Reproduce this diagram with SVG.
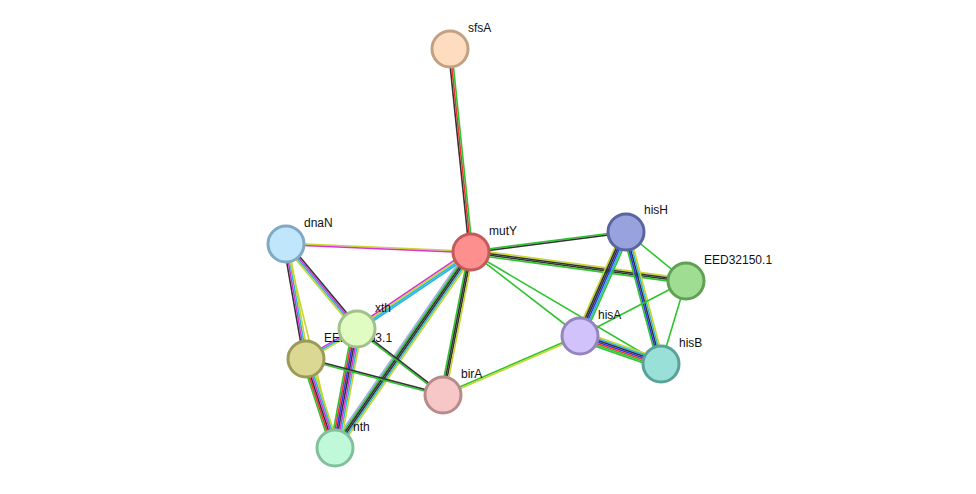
<svg xmlns="http://www.w3.org/2000/svg" width="976" height="494" viewBox="0 0 976 494">
<style>
line{stroke-width:1.6;fill:none}
.k{stroke:#333}.g{stroke:#2ec52e}.y{stroke:#c6d62e}.m{stroke:#d633d6}.c{stroke:#2bb6dd}.b{stroke:#3333ee}.r{stroke:#f03333}.l{stroke:#a9a9f6}
circle{stroke-width:3}
text{font-family:"Liberation Sans",Arial,sans-serif;font-size:12px;fill:#111}
</style>
<rect width="976" height="494" fill="#fff"/>
<g id="edges">
<line class="k" x1="450" y1="49" x2="471" y2="252" transform="translate(-1.6,0.16)"/>
<line class="r" x1="450" y1="49" x2="471" y2="252"/>
<line class="g" x1="450" y1="49" x2="471" y2="252" transform="translate(1.6,-0.16)"/>
<line class="y" x1="286" y1="244" x2="471" y2="252" transform="translate(0,-0.8)"/>
<line class="m" x1="286" y1="244" x2="471" y2="252" transform="translate(0,0.8)"/>
<line class="k" x1="286" y1="244" x2="357" y2="329" transform="translate(1.84,-1.54)"/>
<line class="m" x1="286" y1="244" x2="357" y2="329" transform="translate(0.61,-0.51)"/>
<line class="c" x1="286" y1="244" x2="357" y2="329" transform="translate(-0.61,0.51)"/>
<line class="y" x1="286" y1="244" x2="357" y2="329" transform="translate(-1.84,1.54)"/>
<line class="k" x1="286" y1="244" x2="306" y2="359" transform="translate(-2.36,0.41)"/>
<line class="m" x1="286" y1="244" x2="306" y2="359" transform="translate(-0.79,0.14)"/>
<line class="c" x1="286" y1="244" x2="306" y2="359" transform="translate(0.79,-0.14)"/>
<line class="y" x1="286" y1="244" x2="306" y2="359" transform="translate(2.36,-0.41)"/>
<line class="y" x1="286" y1="244" x2="335" y2="448"/>
<line class="m" x1="471" y1="252" x2="357" y2="329" transform="translate(-1.34,-1.99)"/>
<line class="y" x1="471" y1="252" x2="357" y2="329" transform="translate(-0.45,-0.66)"/>
<line class="c" x1="471" y1="252" x2="357" y2="329" transform="translate(0.45,0.66)"/>
<line class="c" x1="471" y1="252" x2="357" y2="329" transform="translate(1.34,1.99)"/>
<line class="l" x1="471" y1="252" x2="335" y2="448" transform="translate(-3.28,-2.28)"/>
<line class="g" x1="471" y1="252" x2="335" y2="448" transform="translate(-1.97,-1.37)"/>
<line class="k" x1="471" y1="252" x2="335" y2="448" transform="translate(-0.66,-0.46)"/>
<line class="k" x1="471" y1="252" x2="335" y2="448" transform="translate(0.66,0.46)"/>
<line class="c" x1="471" y1="252" x2="335" y2="448" transform="translate(1.97,1.37)"/>
<line class="y" x1="471" y1="252" x2="335" y2="448" transform="translate(3.28,2.28)"/>
<line class="g" x1="471" y1="252" x2="443" y2="395" transform="translate(-2.35,-0.46)"/>
<line class="k" x1="471" y1="252" x2="443" y2="395" transform="translate(-0.78,-0.15)"/>
<line class="k" x1="471" y1="252" x2="443" y2="395" transform="translate(0.78,0.15)"/>
<line class="y" x1="471" y1="252" x2="443" y2="395" transform="translate(2.35,0.46)"/>
<line class="g" x1="471" y1="252" x2="626" y2="232" transform="translate(-0.1,-0.79)"/>
<line class="k" x1="471" y1="252" x2="626" y2="232" transform="translate(0.1,0.79)"/>
<line class="y" x1="471" y1="252" x2="686" y2="281" transform="translate(0.32,-2.38)"/>
<line class="k" x1="471" y1="252" x2="686" y2="281" transform="translate(0.11,-0.79)"/>
<line class="k" x1="471" y1="252" x2="686" y2="281" transform="translate(-0.11,0.79)"/>
<line class="g" x1="471" y1="252" x2="686" y2="281" transform="translate(-0.32,2.38)"/>
<line class="g" x1="471" y1="252" x2="580" y2="336"/>
<line class="g" x1="471" y1="252" x2="661" y2="364"/>
<line class="y" x1="626" y1="232" x2="580" y2="336" transform="translate(-3.66,-1.62)"/>
<line class="k" x1="626" y1="232" x2="580" y2="336" transform="translate(-2.2,-0.97)"/>
<line class="k" x1="626" y1="232" x2="580" y2="336" transform="translate(-0.73,-0.32)"/>
<line class="b" x1="626" y1="232" x2="580" y2="336" transform="translate(0.73,0.32)"/>
<line class="c" x1="626" y1="232" x2="580" y2="336" transform="translate(2.2,0.97)"/>
<line class="g" x1="626" y1="232" x2="580" y2="336" transform="translate(3.66,1.62)"/>
<line class="g" x1="626" y1="232" x2="661" y2="364" transform="translate(-3.09,0.82)"/>
<line class="b" x1="626" y1="232" x2="661" y2="364" transform="translate(-1.55,0.41)"/>
<line class="k" x1="626" y1="232" x2="661" y2="364"/>
<line class="c" x1="626" y1="232" x2="661" y2="364" transform="translate(1.55,-0.41)"/>
<line class="y" x1="626" y1="232" x2="661" y2="364" transform="translate(3.09,-0.82)"/>
<line class="g" x1="626" y1="232" x2="686" y2="281"/>
<line class="g" x1="686" y1="281" x2="580" y2="336"/>
<line class="g" x1="686" y1="281" x2="661" y2="364"/>
<line class="y" x1="580" y1="336" x2="661" y2="364" transform="translate(1.57,-4.54)"/>
<line class="c" x1="580" y1="336" x2="661" y2="364" transform="translate(1.05,-3.02)"/>
<line class="k" x1="580" y1="336" x2="661" y2="364" transform="translate(0.52,-1.51)"/>
<line class="b" x1="580" y1="336" x2="661" y2="364"/>
<line class="r" x1="580" y1="336" x2="661" y2="364" transform="translate(-0.52,1.51)"/>
<line class="g" x1="580" y1="336" x2="661" y2="364" transform="translate(-1.05,3.02)"/>
<line class="g" x1="580" y1="336" x2="661" y2="364" transform="translate(-1.57,4.54)"/>
<line class="g" x1="580" y1="336" x2="443" y2="395" transform="translate(-0.32,-0.73)"/>
<line class="y" x1="580" y1="336" x2="443" y2="395" transform="translate(0.32,0.73)"/>
<line class="g" x1="357" y1="329" x2="335" y2="448" transform="translate(-4.72,-0.87)"/>
<line class="r" x1="357" y1="329" x2="335" y2="448" transform="translate(-3.15,-0.58)"/>
<line class="b" x1="357" y1="329" x2="335" y2="448" transform="translate(-1.57,-0.29)"/>
<line class="k" x1="357" y1="329" x2="335" y2="448"/>
<line class="m" x1="357" y1="329" x2="335" y2="448" transform="translate(1.57,0.29)"/>
<line class="c" x1="357" y1="329" x2="335" y2="448" transform="translate(3.15,0.58)"/>
<line class="y" x1="357" y1="329" x2="335" y2="448" transform="translate(4.72,0.87)"/>
<line class="g" x1="306" y1="359" x2="335" y2="448" transform="translate(-3.8,1.24)"/>
<line class="r" x1="306" y1="359" x2="335" y2="448" transform="translate(-2.28,0.74)"/>
<line class="k" x1="306" y1="359" x2="335" y2="448" transform="translate(-0.76,0.25)"/>
<line class="m" x1="306" y1="359" x2="335" y2="448" transform="translate(0.76,-0.25)"/>
<line class="c" x1="306" y1="359" x2="335" y2="448" transform="translate(2.28,-0.74)"/>
<line class="y" x1="306" y1="359" x2="335" y2="448" transform="translate(3.8,-1.24)"/>
<line class="g" x1="357" y1="329" x2="443" y2="395" transform="translate(-0.49,0.63)"/>
<line class="k" x1="357" y1="329" x2="443" y2="395" transform="translate(0.49,-0.63)"/>
<line class="g" x1="306" y1="359" x2="443" y2="395" transform="translate(-0.2,0.77)"/>
<line class="k" x1="306" y1="359" x2="443" y2="395" transform="translate(0.2,-0.77)"/>
<line class="m" x1="357" y1="329" x2="306" y2="359" transform="translate(-0.81,-1.38)"/>
<line class="c" x1="357" y1="329" x2="306" y2="359"/>
<line class="y" x1="357" y1="329" x2="306" y2="359" transform="translate(0.81,1.38)"/>
</g>
<g id="sfsA"><circle cx="450" cy="49" r="18" fill="#fddcbf" stroke="#c4a082"/><text x="468" y="32">sfsA</text></g>
<g id="mutY"><circle cx="471" cy="252" r="18" fill="#fd8f8f" stroke="#c45a5a"/><text x="489" y="235">mutY</text></g>
<g id="dnaN"><circle cx="286" cy="244" r="18" fill="#bfe6fb" stroke="#82a9c4"/><text x="304" y="227">dnaN</text></g>
<g id="EED32153.1"><circle cx="306" cy="359" r="18" fill="#dbd894" stroke="#9c9a58"/><text x="324" y="342">EED32153.1</text></g>
<g id="xth"><circle cx="357" cy="329" r="18" fill="#e1fcc3" stroke="#a3c08a"/><text x="375" y="312">xth</text></g>
<g id="birA"><circle cx="443" cy="395" r="18" fill="#f7c6c6" stroke="#b88b8b"/><text x="461" y="378">birA</text></g>
<g id="nth"><circle cx="335" cy="448" r="18" fill="#bff9da" stroke="#82bf9c"/><text x="353" y="431">nth</text></g>
<g id="hisH"><circle cx="626" cy="232" r="18" fill="#98a2dd" stroke="#5a64a0"/><text x="644" y="214">hisH</text></g>
<g id="EED32150.1"><circle cx="686" cy="281" r="18" fill="#9edd92" stroke="#60a055"/><text x="704" y="264">EED32150.1</text></g>
<g id="hisA"><circle cx="580" cy="336" r="18" fill="#d2c2fb" stroke="#9585bf"/><text x="598" y="319">hisA</text></g>
<g id="hisB"><circle cx="661" cy="364" r="18" fill="#98e0d8" stroke="#5aa199"/><text x="679" y="347">hisB</text></g>
</svg>
